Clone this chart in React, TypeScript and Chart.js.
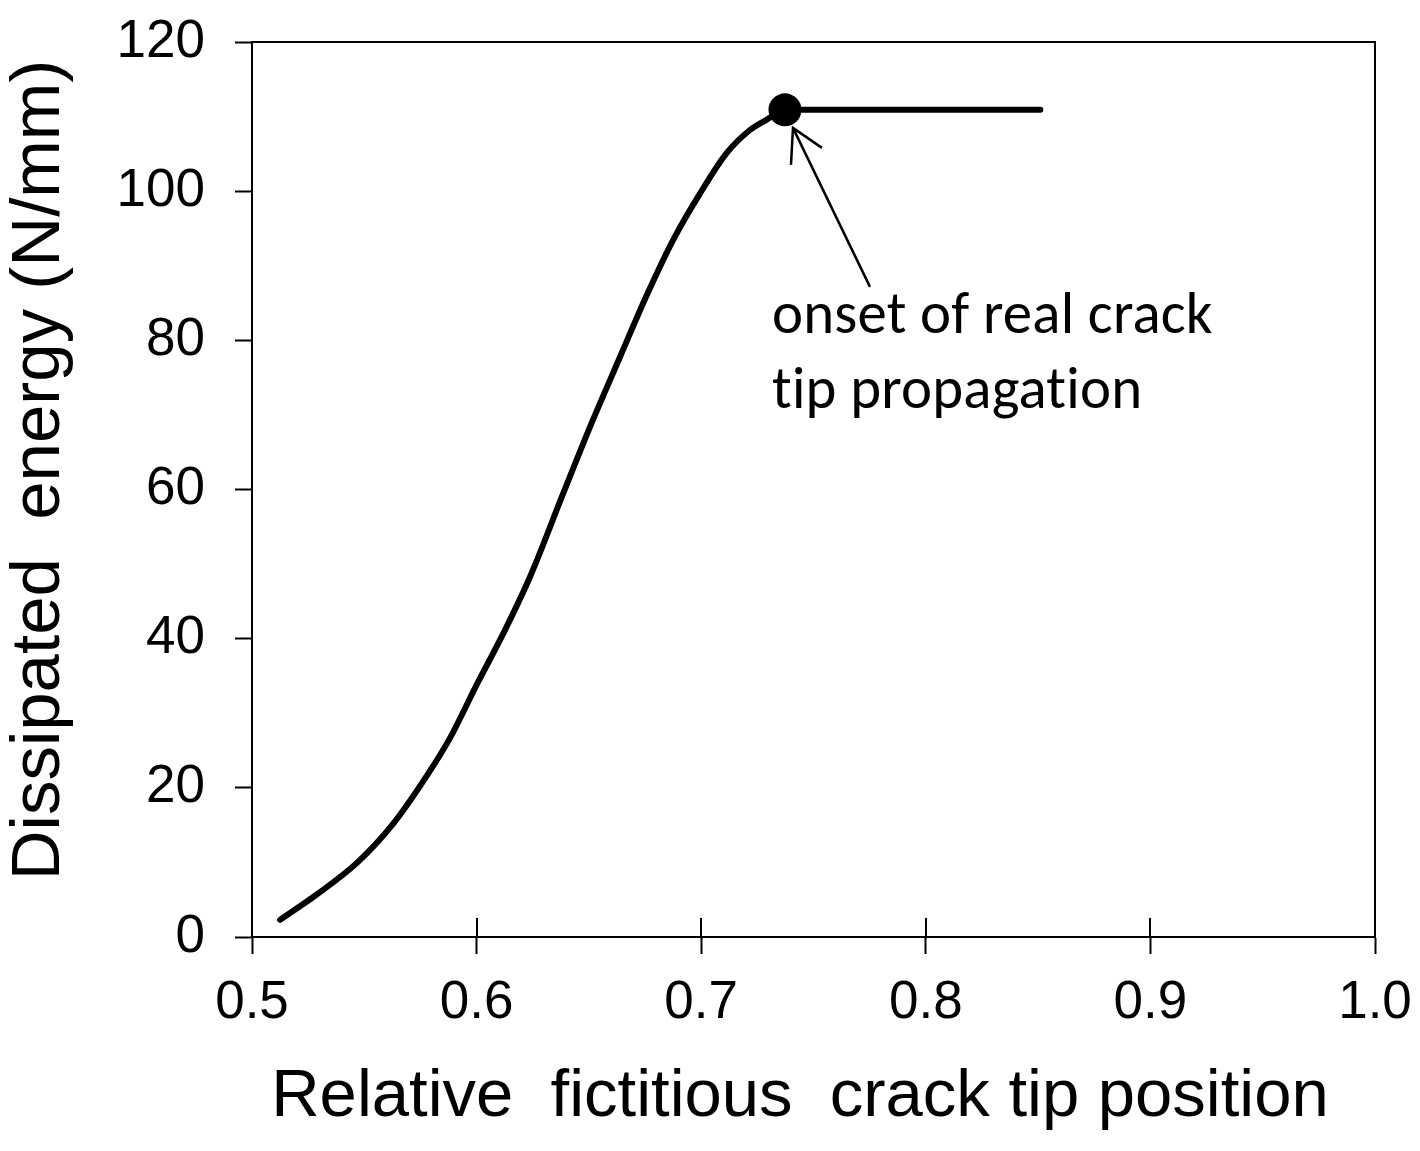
import React, { useEffect, useRef } from "react";
import { Chart, registerables } from "chart.js";

Chart.register(...registerables);

// Relative fictitious crack tip position (x) vs dissipated energy (N/mm) (y)
const positions = [
  0.5125, 0.5288, 0.5466, 0.5629, 0.5778, 0.5882, 0.6, 0.6119, 0.6238, 0.6386,
  0.6505, 0.6639, 0.6757, 0.6876, 0.6995, 0.7113, 0.7217, 0.7292, 0.7373, 0.851,
];
const energies = [
  2.3, 5.7, 9.9, 15.2, 21.6, 26.7, 33.8, 40.7, 48.3, 59.5,
  68.4, 77.8, 86.0, 93.5, 99.7, 105.1, 108.2, 109.6, 110.9, 110.9,
];
const onsetPoint = { x: 0.7373, y: 110.9 };

const xTicks = [0.5, 0.6, 0.7, 0.8, 0.9, 1.0];
const yTicks = [0, 20, 40, 60, 80, 100, 120];

const xTitle = "Relative  fictitious  crack tip position";
const yTitle = "Dissipated  energy (N/mm)";
const annotationLines = ["onset of real crack", "tip propagation"];

const SANS = "'Liberation Sans', Arial, sans-serif";
const NOTE_FONT = "Carlito, Calibri, Lato, 'Open Sans', sans-serif";

const decorPlugin = {
  id: "decor",
  afterDraw(chart: any) {
    const ctx = chart.ctx;
    const area = chart.chartArea;
    const xs = chart.scales.x;
    const ys = chart.scales.y;
    ctx.save();
    // frame top + right
    ctx.strokeStyle = "#000";
    ctx.lineWidth = 2;
    ctx.beginPath();
    ctx.moveTo(area.left, area.top);
    ctx.lineTo(area.right, area.top);
    ctx.lineTo(area.right, area.bottom);
    ctx.stroke();
    // inward parts of the x ticks
    ctx.beginPath();
    xTicks.forEach((v) => {
      const px = Math.round(xs.getPixelForValue(v));
      ctx.moveTo(px, area.bottom);
      ctx.lineTo(px, area.bottom - 19);
    });
    ctx.stroke();

    // annotation arrow anchored at the onset point
    const mx = xs.getPixelForValue(onsetPoint.x);
    const my = ys.getPixelForValue(onsetPoint.y);
    const tipX = mx + 8;
    const tipY = my + 18;
    ctx.lineWidth = 2.5;
    ctx.beginPath();
    ctx.moveTo(tipX + 77, tipY + 159);
    ctx.lineTo(tipX, tipY);
    ctx.moveTo(tipX - 2, tipY + 37);
    ctx.lineTo(tipX, tipY);
    ctx.lineTo(tipX + 29, tipY + 20);
    ctx.stroke();

    // annotation text
    ctx.fillStyle = "#000";
    ctx.textAlign = "left";
    ctx.textBaseline = "alphabetic";
    try {
      (ctx as any).letterSpacing = "0.2px";
    } catch (e) {}
    let size = 58;
    ctx.font = `${size}px ${NOTE_FONT}`;
    const w = ctx.measureText(annotationLines[0]).width;
    size = (size * 441) / w;
    ctx.font = `${size}px ${NOTE_FONT}`;
    ctx.fillText(annotationLines[0], mx - 13, my + 223);
    ctx.fillText(annotationLines[1], mx - 13, my + 298);
    try {
      (ctx as any).letterSpacing = "0px";
    } catch (e) {}

    // axis titles
    ctx.font = `67px ${SANS}`;
    ctx.textAlign = "center";
    ctx.textBaseline = "middle";
    ctx.fillText(xTitle, 800, 1098);
    ctx.save();
    ctx.translate(40, 470);
    ctx.rotate(-Math.PI / 2);
    ctx.font = `69px ${SANS}`;
    ctx.fillText(yTitle, 0, 0);
    ctx.restore();
    ctx.restore();
  },
};

export default function App() {
  const ref = useRef<HTMLCanvasElement | null>(null);
  useEffect(() => {
    document.body.style.margin = "0";
    const canvas = ref.current!;
    const chart = new Chart(canvas, {
      type: "scatter",
      data: {
        datasets: [
          {
            label: "Dissipated energy",
            data: positions.map((x, i) => ({ x, y: energies[i] })),
            showLine: true,
            borderColor: "#000",
            borderWidth: 6,
            borderCapStyle: "round",
            borderJoinStyle: "round",
            pointRadius: 0,
            cubicInterpolationMode: "monotone",
          },
          {
            label: "Onset",
            data: [onsetPoint],
            pointRadius: 16.5,
            pointBackgroundColor: "#000",
            pointBorderColor: "#000",
            pointBorderWidth: 0,
          },
        ],
      },
      options: {
        animation: false,
        responsive: false,
        maintainAspectRatio: false,
        events: [],
        layout: { padding: { top: 42, right: 45, left: 0, bottom: 0 } },
        plugins: { legend: { display: false }, tooltip: { enabled: false } },
        scales: {
          x: {
            type: "linear",
            min: 0.5,
            max: 1.0,
            afterBuildTicks: (s: any) => {
              s.ticks = xTicks.map((v) => ({ value: v }));
            },
            afterFit: (s: any) => {
              s.height = 214;
              s.paddingLeft = 0;
              s.paddingRight = 0;
              s.paddingTop = 0;
              s.paddingBottom = 0;
            },
            ticks: {
              color: "#000",
              font: { family: SANS, size: 53 },
              padding: 18,
              maxRotation: 0,
              autoSkip: false,
              callback: (v: any) => Number(v).toFixed(1),
            },
            grid: {
              drawOnChartArea: false,
              drawTicks: true,
              tickLength: 17,
              tickWidth: 2,
              tickColor: "#000",
            },
            border: { display: true, color: "#000", width: 2 },
          },
          y: {
            type: "linear",
            min: 0,
            max: 120,
            afterBuildTicks: (s: any) => {
              s.ticks = yTicks.map((v) => ({ value: v }));
            },
            afterFit: (s: any) => {
              s.width = 252;
              s.paddingLeft = 0;
              s.paddingRight = 0;
              s.paddingTop = 0;
              s.paddingBottom = 0;
            },
            ticks: {
              color: "#000",
              font: { family: SANS, size: 53 },
              padding: 30,
              autoSkip: false,
            },
            grid: {
              drawOnChartArea: false,
              drawTicks: true,
              tickLength: 17,
              tickWidth: 2,
              tickColor: "#000",
            },
            border: { display: true, color: "#000", width: 2 },
          },
        },
      },
      plugins: [decorPlugin],
    } as any);
    return () => chart.destroy();
  }, []);
  return (
    <div style={{ width: 1420, height: 1151, background: "#fff" }}>
      <canvas ref={ref} width={1420} height={1151} style={{ display: "block" }} />
    </div>
  );
}
